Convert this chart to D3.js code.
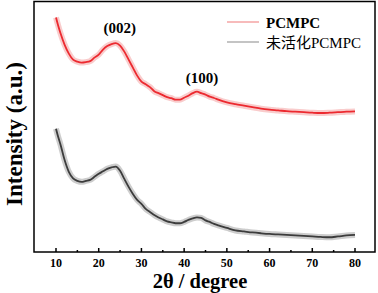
<!DOCTYPE html>
<html>
<head>
<meta charset="utf-8">
<script src="https://cdn.jsdelivr.net/npm/d3@7"></script>
<style>
  body { margin: 0; background: #fff; }
  text { font-family: "Liberation Serif", "Times New Roman", serif; }
</style>
</head>
<body>
<svg id="chart" width="378" height="293"></svg>
<script>
var angles = [10, 10.5, 11, 12, 13, 14, 15, 16, 17, 18, 19, 20, 21, 22, 23, 24, 25, 26, 27, 28, 29,
  30, 31, 32, 33, 34, 35, 36, 37, 38, 39, 40, 41, 42, 43, 44, 45, 46, 47, 48,
  50, 52, 54, 56, 58, 60, 62, 64, 66, 68, 70, 72, 74, 76, 78, 80];

// intensity (a.u.), curves already offset as in the figure
var pcmpc = [234, 226, 219, 207, 198, 192, 190, 189, 189.5, 190.5, 194, 197, 202, 205.5, 207.5, 208.5, 206, 200, 192, 184, 176,
  170, 167.5, 164.5, 160.5, 158.5, 156.5, 154.5, 153.5, 152, 152, 154, 156, 158.5, 160, 158.5, 157, 155, 153.7, 152,
  149.3, 147.5, 146, 144.5, 143, 142, 141.3, 140.5, 140, 139.5, 139, 138.7, 139, 139.5, 140, 140.3];

var unactivated = [123, 115, 108, 92, 80, 73.5, 71, 70, 71, 72, 75, 78, 80.5, 83, 84.5, 85.3, 81, 73, 65, 58, 52,
  48, 43, 40, 37, 34.5, 32.5, 30.5, 29.5, 28.7, 28.7, 30, 32, 33.5, 34.5, 34, 31.5, 30, 28, 26.5,
  24, 21.5, 20.5, 19.5, 18.7, 18, 17.5, 17, 16.5, 16, 15.5, 15, 14.7, 15.5, 16.5, 17];

var xTicks = [10, 20, 30, 40, 50, 60, 70, 80];
var xMinorTicks = [15, 25, 35, 45, 55, 65, 75];
var seriesNames = ['PCMPC', '未活化PCMPC'];
var peakLabels = [{text: '(002)', angle: 24.9, value: 219}, {text: '(100)', angle: 44.2, value: 169}];

var svg = d3.select('#chart');
var plotLeft = 34, plotRight = 375, plotTop = 1.5, plotBottom = 252;

var x = d3.scaleLinear().domain([10, 80]).range([56, 355]);
var y = d3.scaleLinear().domain([0, 250]).range([plotBottom, plotTop]);

var line = d3.line()
  .x(function(d) { return x(d[0]); })
  .y(function(d) { return y(d[1]); })
  .curve(d3.curveMonotoneX);

function drawSeries(values, halo, core) {
  var pts = d3.zip(angles, values);
  svg.append('path').attr('d', line(pts)).attr('fill', 'none')
    .attr('stroke', halo).attr('stroke-width', 6).attr('stroke-opacity', 0.5)
    .attr('stroke-linejoin', 'round');
  svg.append('path').attr('d', line(pts)).attr('fill', 'none')
    .attr('stroke', core).attr('stroke-width', 1.8)
    .attr('stroke-linejoin', 'round');
}

drawSeries(pcmpc, '#f49a9a', '#ec2a30');
drawSeries(unactivated, '#9c9c9c', '#3c3c3c');

// frame
svg.append('rect')
  .attr('x', plotLeft).attr('y', plotTop)
  .attr('width', plotRight - plotLeft).attr('height', plotBottom - plotTop)
  .attr('fill', 'none').attr('stroke', '#000').attr('stroke-width', 1.5);

// ticks pointing inwards
var xAxis = svg.append('g').attr('transform', 'translate(0,' + plotBottom + ')');
xAxis.selectAll('.major').data(xTicks).enter().append('line')
  .attr('x1', function(d) { return x(d); }).attr('x2', function(d) { return x(d); })
  .attr('y1', 0).attr('y2', -4).attr('stroke', '#000').attr('stroke-width', 1.5);
xAxis.selectAll('.minor').data(xMinorTicks).enter().append('line')
  .attr('x1', function(d) { return x(d); }).attr('x2', function(d) { return x(d); })
  .attr('y1', 0).attr('y2', -2).attr('stroke', '#000').attr('stroke-width', 1.5);
xAxis.selectAll('text').data(xTicks).enter().append('text')
  .attr('x', function(d) { return x(d); }).attr('y', 14.5)
  .attr('text-anchor', 'middle').attr('font-size', 12).attr('font-weight', 'bold')
  .text(function(d) { return d; });

svg.append('text')
  .attr('x', 200).attr('y', 288)
  .attr('text-anchor', 'middle').attr('font-size', 20.5).attr('font-weight', 'bold')
  .text('2θ / degree');

svg.append('text')
  .attr('transform', 'translate(22,134) rotate(-90)')
  .attr('text-anchor', 'middle').attr('font-size', 23).attr('font-weight', 'bold')
  .text('Intensity (a.u.)');

// peak annotations
svg.selectAll('.peak').data(peakLabels).enter().append('text')
  .attr('x', function(d) { return x(d.angle); }).attr('y', function(d) { return y(d.value); })
  .attr('text-anchor', 'middle').attr('font-size', 15).attr('font-weight', 'bold')
  .text(function(d) { return d.text; });

// legend
var legendColors = ['#f5a5a5', '#b0b0b0'];
var legend = svg.selectAll('.legend').data(seriesNames).enter().append('g')
  .attr('transform', function(d, i) { return 'translate(227,' + (22 + i * 20) + ')'; });
legend.append('line').attr('x1', 0).attr('x2', 32).attr('y1', 0).attr('y2', 0)
  .attr('stroke', function(d, i) { return legendColors[i]; }).attr('stroke-width', 1.5);
legend.append('text').attr('x', 39).attr('y', 5.5)
  .attr('font-size', 15)
  .attr('font-weight', function(d, i) { return i === 0 ? 'bold' : 'normal'; })
  .style('font-family', '"Liberation Serif", "Noto Sans CJK SC", serif')
  .text(function(d) { return d; });
</script>
</body>
</html>
